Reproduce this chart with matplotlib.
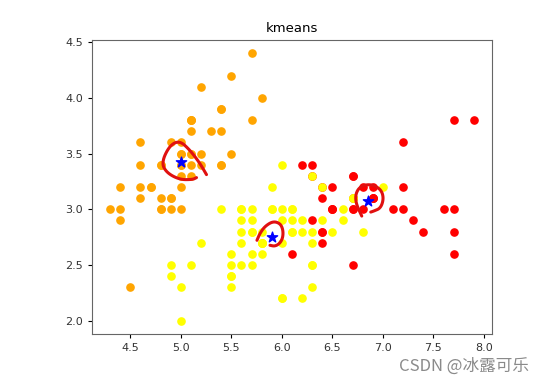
import numpy as np
import matplotlib.pyplot as plt
from matplotlib.transforms import IdentityTransform

# iris sepal length / sepal width
sepal_len = [
    5.1, 4.9, 4.7, 4.6, 5.0, 5.4, 4.6, 5.0, 4.4, 4.9, 5.4, 4.8, 4.8, 4.3, 5.8, 5.7, 5.4, 5.1, 5.7, 5.1,
    5.4, 5.1, 4.6, 5.1, 4.8, 5.0, 5.0, 5.2, 5.2, 4.7, 4.8, 5.4, 5.2, 5.5, 4.9, 5.0, 5.5, 4.9, 4.4, 5.1,
    5.0, 4.5, 4.4, 5.0, 5.1, 4.8, 5.1, 4.6, 5.3, 5.0,
    7.0, 6.4, 6.9, 5.5, 6.5, 5.7, 6.3, 4.9, 6.6, 5.2, 5.0, 5.9, 6.0, 6.1, 5.6, 6.7, 5.6, 5.8, 6.2, 5.6,
    5.9, 6.1, 6.3, 6.1, 6.4, 6.6, 6.8, 6.7, 6.0, 5.7, 5.5, 5.5, 5.8, 6.0, 5.4, 6.0, 6.7, 6.3, 5.6, 5.5,
    5.5, 6.1, 5.8, 5.0, 5.6, 5.7, 5.7, 6.2, 5.1, 5.7,
    6.3, 5.8, 7.1, 6.3, 6.5, 7.6, 4.9, 7.3, 6.7, 7.2, 6.5, 6.4, 6.8, 5.7, 5.8, 6.4, 6.5, 7.7, 7.7, 6.0,
    6.9, 5.6, 7.7, 6.3, 6.7, 7.2, 6.2, 6.1, 6.4, 7.2, 7.4, 7.9, 6.4, 6.3, 6.1, 7.7, 6.3, 6.4, 6.0, 6.9,
    6.7, 6.9, 5.8, 6.8, 6.7, 6.7, 6.3, 6.5, 6.2, 5.9,
]
sepal_wid = [
    3.5, 3.0, 3.2, 3.1, 3.6, 3.9, 3.4, 3.4, 2.9, 3.1, 3.7, 3.4, 3.0, 3.0, 4.0, 4.4, 3.9, 3.5, 3.8, 3.8,
    3.4, 3.7, 3.6, 3.3, 3.4, 3.0, 3.4, 3.5, 3.4, 3.2, 3.1, 3.4, 4.1, 4.2, 3.1, 3.2, 3.5, 3.6, 3.0, 3.4,
    3.5, 2.3, 3.2, 3.5, 3.8, 3.0, 3.8, 3.2, 3.7, 3.3,
    3.2, 3.2, 3.1, 2.3, 2.8, 2.8, 3.3, 2.4, 2.9, 2.7, 2.0, 3.0, 2.2, 2.9, 2.9, 3.1, 3.0, 2.7, 2.2, 2.5,
    3.2, 2.8, 2.5, 2.8, 2.9, 3.0, 2.8, 3.0, 2.9, 2.6, 2.4, 2.4, 2.7, 2.7, 3.0, 3.4, 3.1, 2.3, 3.0, 2.5,
    2.6, 3.0, 2.6, 2.3, 2.7, 3.0, 2.9, 2.9, 2.5, 2.8,
    3.3, 2.7, 3.0, 2.9, 3.0, 3.0, 2.5, 2.9, 2.5, 3.6, 3.2, 2.7, 3.0, 2.5, 2.8, 3.2, 3.0, 3.8, 2.6, 2.2,
    3.2, 2.8, 2.8, 2.7, 3.3, 3.2, 2.8, 3.0, 2.8, 3.0, 2.8, 3.8, 2.8, 2.8, 2.6, 3.0, 3.4, 3.1, 3.0, 3.1,
    3.1, 3.1, 2.7, 3.2, 3.3, 3.0, 2.5, 3.0, 3.4, 3.0,
]
# cluster of each point: 0 = orange, 1 = yellow, 2 = red
labels = (
    [0] * 50
    + [1, 1, 2] + [1] * 24 + [2] + [1] * 22
    + [2, 1, 2, 2, 2, 2, 1, 2, 2, 2, 2, 2, 2, 1, 1, 2, 2, 2, 2, 1,
       2, 1, 2, 1, 2, 2, 1, 1, 2, 2, 2, 2, 2, 1, 2, 2, 2, 2, 1, 2,
       2, 2, 1, 2, 2, 2, 1, 2, 2, 1]
)
cluster_colors = ["orange", "yellow", "red"]
draw_order = [0, 2, 1]

centers_x = [5.006, 5.9016, 6.85]
centers_y = [3.428, 2.7484, 3.0737]

# hand drawn red loops, pixel offsets from each centre
loops = [
    [(25, 13), (18, 1), (8, -12), (-2, -21), (-12, -16), (-20, 1), (-15, 11), (-2, 18),
     (11, 18), (15, 16)],
    [(-15, 3), (-12, -4), (-7, -11), (1, -16), (8, -14), (11, -8), (11, 0), (8, 6),
     (3, 9), (-2, 8)],
    [(-6, 15), (-12, 2), (-12, -8), (-7, -15), (3, -17), (13, -12), (16, -3), (13, 7),
     (6, 10), (3, 11)],
]

x = np.array(sepal_len)
y = np.array(sepal_wid)
lab = np.array(labels)


def smooth(pts, n=3):
    pts = np.asarray(pts, dtype=float)
    for _ in range(n):
        q = 0.75 * pts[:-1] + 0.25 * pts[1:]
        r = 0.25 * pts[:-1] + 0.75 * pts[1:]
        new = np.empty((2 * len(q), 2))
        new[0::2] = q
        new[1::2] = r
        pts = np.vstack([pts[:1], new, pts[-1:]])
    return pts


fig = plt.figure(figsize=(5.44, 3.84), dpi=100)
ax = fig.add_axes([92 / 544, 1 - 334 / 384, 400 / 544, 294 / 384])

for k in draw_order:
    m = lab == k
    ax.scatter(x[m], y[m], c=cluster_colors[k], s=27)

ax.scatter(centers_x, centers_y, marker="*", c="blue", s=60, zorder=3)
ax.set_title("kmeans", fontsize=9.5)
ax.set_xlim(4.12, 8.08)
ax.set_ylim(1.88, 4.52)
ax.set_xticks([4.5, 5.0, 5.5, 6.0, 6.5, 7.0, 7.5, 8.0])
ax.set_yticks([2.0, 2.5, 3.0, 3.5, 4.0, 4.5])
ax.tick_params(labelsize=8, length=3, labelcolor="#333333")
for s in ax.spines.values():
    s.set_color("#666666")

# red pen marks around the centres
for cx, cy, loop in zip(centers_x, centers_y, loops):
    px, py = ax.transData.transform((cx, cy))
    pts = smooth(loop)
    ax.plot(px + pts[:, 0], py - pts[:, 1], color="#e01010", lw=2.2,
            solid_capstyle="round", transform=IdentityTransform(), zorder=4)

fig.text(0.972, 0.046, "CSDN @冰露可乐", ha="right", va="center", fontsize=12,
         color="#8a8a8a", family=["Noto Sans CJK SC", "DejaVu Sans"])

fig.savefig("out.png", dpi=100)
